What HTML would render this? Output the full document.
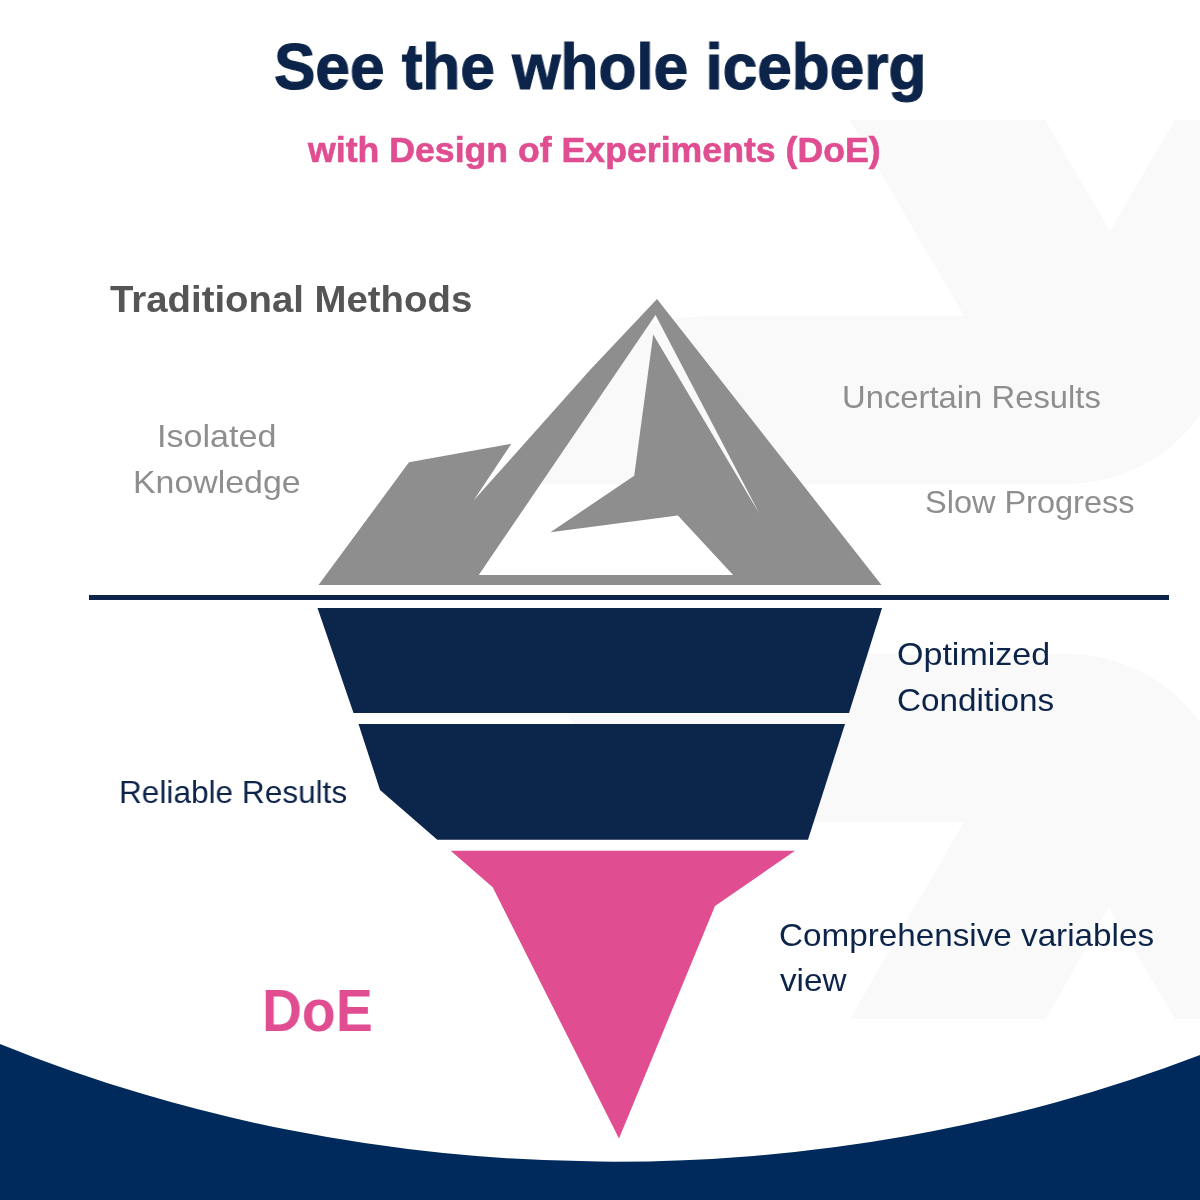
<!DOCTYPE html>
<html>
<head>
<meta charset="utf-8">
<style>
html,body{margin:0;padding:0;}
body{width:1200px;height:1200px;position:relative;overflow:hidden;background:#ffffff;font-family:"Liberation Sans",sans-serif;}
svg.bg{position:absolute;left:0;top:0;}
.t{position:absolute;white-space:nowrap;line-height:1;transform-origin:0 0;will-change:transform;}
.b{font-weight:bold;}
#title{-webkit-text-stroke:1.2px #0c2449;}
#sub{-webkit-text-stroke:0.6px #e04d91;}
.navy{color:#0c2449;}
.pink{color:#e04d91;}
.gray{color:#8e8e8e;}
</style>
</head>
<body>
<svg class="bg" width="1200" height="1200" viewBox="0 0 1200 1200">
  <!-- watermark -->
  <g fill="#f9f9f9">
    <path d="M850 120 L1045 120 L1110 231 L1175 120 L1200 120 L1200 415 A163 163 0 0 1 1067 484 L520 484 L640 330 Q655 316 720 316 L964 316 Z"/>
    <path d="M720 822 L964 822 L850 1019 L1046 1019 L1109 907 L1175 1019 L1200 1019 L1200 722 A163 163 0 0 0 1067 654 L520 654 L640 808 Q655 822 720 822 Z"/>
  </g>
  <!-- iceberg top (gray) with holes -->
  <path fill="#8e8e8e" fill-rule="evenodd" d="M657 299 L881.5 585 L318.5 585 L409 462.3 L511.3 443.8 L473.8 500.2 L590 370 Z M655.5 315 L759.2 513.3 L653.2 334.5 L634.2 475.8 L550.4 532.3 L677.9 515.4 L733.1 575 L478.8 575 Z"/>
  <!-- waterline -->
  <rect x="89" y="595" width="1080" height="5" fill="#0c2449"/>
  <!-- bands -->
  <path fill="#0c254a" d="M317.5 608 L882 608 L849 713 L353.5 713 Z"/>
  <path fill="#0c254a" d="M358.5 724 L845 724 L808 839.8 L437.3 839.8 L380 790 Z"/>
  <path fill="#e04d91" d="M450.7 850.7 L795 850.7 L715 906 L619 1138.5 L492.7 887.3 Z"/>
  <!-- bottom band -->
  <path fill="#012a5c" d="M0 1043.9 A1354.9 1084.8 0 0 0 1200 1055 L1200 1200 L0 1200 Z"/>
</svg>

<!--TEXT-->
<div class="t b navy" id="title" style="left:274.18px;top:33.80px;font-size:65px;transform:scaleX(0.9556);">See the whole iceberg</div>
<div class="t b pink" id="sub" style="left:308.26px;top:132.00px;font-size:35px;transform:scaleX(1.0189);">with Design of Experiments (DoE)</div>
<div class="t b" id="trad" style="left:109.50px;top:280.80px;font-size:37.5px;transform:scaleX(1.0227);color:#555555;">Traditional Methods</div>
<div class="t gray" id="iso1" style="left:156.80px;top:419.71px;font-size:32px;transform:scaleX(1.0654);">Isolated</div>
<div class="t gray" id="iso2" style="left:133.42px;top:465.80px;font-size:32px;transform:scaleX(1.0584);">Knowledge</div>
<div class="t gray" id="unc" style="left:841.66px;top:381.10px;font-size:32px;transform:scaleX(1.0249);">Uncertain Results</div>
<div class="t gray" id="slow" style="left:924.86px;top:485.71px;font-size:32px;transform:scaleX(1.0152);">Slow Progress</div>
<div class="t navy" id="opt1" style="left:896.84px;top:638.00px;font-size:32px;transform:scaleX(1.0638);">Optimized</div>
<div class="t navy" id="opt2" style="left:896.96px;top:683.80px;font-size:32px;transform:scaleX(1.0396);">Conditions</div>
<div class="t navy" id="rel" style="left:118.78px;top:775.50px;font-size:32px;transform:scaleX(0.9868);">Reliable Results</div>
<div class="t navy" id="comp1" style="left:778.96px;top:918.71px;font-size:32px;transform:scaleX(1.0387);">Comprehensive variables</div>
<div class="t navy" id="comp2" style="left:780.00px;top:963.71px;font-size:32px;transform:scaleX(1.0387);">view</div>
<div class="t b pink" id="doe" style="left:262.25px;top:981.90px;font-size:59px;transform:scaleX(0.9375);">DoE</div>
<!--/TEXT-->
</body>
</html>
